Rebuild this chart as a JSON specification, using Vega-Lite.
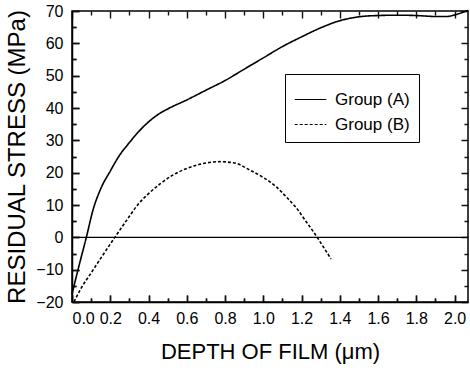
{
  "$schema": "https://vega.github.io/schema/vega-lite/v6.json",
  "width": 396,
  "height": 291,
  "autosize": {"type": "none"},
  "padding": {"left": 72, "top": 11, "right": 2, "bottom": 68},
  "background": "white",
  "config": {
    "view": {"stroke": "#000", "strokeWidth": 1.5},
    "font": "Liberation Sans"
  },
  "datasets": {
    "curves": [
      {"group": "Group (A)", "x": 0.0, "y": -17.5},
      {"group": "Group (A)", "x": 0.04, "y": -8},
      {"group": "Group (A)", "x": 0.075, "y": 0},
      {"group": "Group (A)", "x": 0.11, "y": 8.5},
      {"group": "Group (A)", "x": 0.15, "y": 15},
      {"group": "Group (A)", "x": 0.2, "y": 20.5},
      {"group": "Group (A)", "x": 0.25, "y": 25.5},
      {"group": "Group (A)", "x": 0.3, "y": 29.3},
      {"group": "Group (A)", "x": 0.35, "y": 32.8},
      {"group": "Group (A)", "x": 0.4, "y": 35.7},
      {"group": "Group (A)", "x": 0.45, "y": 38},
      {"group": "Group (A)", "x": 0.5, "y": 39.7},
      {"group": "Group (A)", "x": 0.6, "y": 42.5},
      {"group": "Group (A)", "x": 0.7, "y": 45.5},
      {"group": "Group (A)", "x": 0.8, "y": 48.5},
      {"group": "Group (A)", "x": 0.9, "y": 52},
      {"group": "Group (A)", "x": 1.0, "y": 55.5},
      {"group": "Group (A)", "x": 1.1, "y": 59},
      {"group": "Group (A)", "x": 1.2, "y": 62},
      {"group": "Group (A)", "x": 1.3, "y": 64.8},
      {"group": "Group (A)", "x": 1.4, "y": 67},
      {"group": "Group (A)", "x": 1.5, "y": 68.2},
      {"group": "Group (A)", "x": 1.6, "y": 68.6},
      {"group": "Group (A)", "x": 1.7, "y": 68.7},
      {"group": "Group (A)", "x": 1.8, "y": 68.6},
      {"group": "Group (A)", "x": 1.9, "y": 68.3},
      {"group": "Group (A)", "x": 1.96, "y": 68.3},
      {"group": "Group (A)", "x": 2.0, "y": 68.8},
      {"group": "Group (A)", "x": 2.07, "y": 70.2},
      {"group": "Group (B)", "x": 0.01, "y": -20},
      {"group": "Group (B)", "x": 0.05, "y": -15.5},
      {"group": "Group (B)", "x": 0.1, "y": -11},
      {"group": "Group (B)", "x": 0.15, "y": -6.5},
      {"group": "Group (B)", "x": 0.224, "y": 0},
      {"group": "Group (B)", "x": 0.3, "y": 6.5},
      {"group": "Group (B)", "x": 0.34, "y": 9.8},
      {"group": "Group (B)", "x": 0.4, "y": 13.5},
      {"group": "Group (B)", "x": 0.46, "y": 16.5},
      {"group": "Group (B)", "x": 0.52, "y": 19},
      {"group": "Group (B)", "x": 0.6, "y": 21.3},
      {"group": "Group (B)", "x": 0.7, "y": 23},
      {"group": "Group (B)", "x": 0.77, "y": 23.4},
      {"group": "Group (B)", "x": 0.85, "y": 23},
      {"group": "Group (B)", "x": 0.93, "y": 20.8},
      {"group": "Group (B)", "x": 1.0, "y": 18.5},
      {"group": "Group (B)", "x": 1.07, "y": 15.5},
      {"group": "Group (B)", "x": 1.12, "y": 12.5},
      {"group": "Group (B)", "x": 1.17, "y": 9.3},
      {"group": "Group (B)", "x": 1.22, "y": 5.2},
      {"group": "Group (B)", "x": 1.276, "y": 0.5},
      {"group": "Group (B)", "x": 1.32, "y": -3.5},
      {"group": "Group (B)", "x": 1.354, "y": -6.7}
    ],
    "zero": [
      {"x": 0.0, "y": 0},
      {"x": 2.07, "y": 0}
    ]
  },
  "resolve": {"axis": {"x": "independent", "y": "independent"}},
  "layer": [
    {
      "data": {"name": "curves"},
      "mark": {"type": "line", "strokeWidth": 1.6, "color": "black", "interpolate": "monotone"},
      "encoding": {
        "x": {"field": "x", "type": "quantitative", "scale": {"domain": [0, 2.07], "nice": false, "zero": false},
          "axis": {"orient": "bottom", "values": [0, 0.2, 0.4, 0.6, 0.8, 1.0, 1.2, 1.4, 1.6, 1.8, 2.0], "format": ".1f", "domainColor": "#000", "domainWidth": 1.5, "ticks": true, "tickColor": "#111", "tickOpacity": 1, "tickWidth": 1.5, "tickSize": -7, "grid": true, "gridColor": "#111", "gridOpacity": 1, "gridWidth": 1.4, "gridDash": [7, 277, 7, 20], "labelColor": "#000", "labelFont": "Liberation Sans", "labelPadding": 15, "labelFontSize": 16, "title": "DEPTH OF FILM (μm)", "titleColor": "#000", "titleFont": "Liberation Sans", "titleFontWeight": "normal", "titleFontSize": 22, "titlePadding": 15}},
        "y": {"field": "y", "type": "quantitative", "scale": {"domain": [-20, 70], "nice": false, "zero": false},
          "axis": {"orient": "left", "values": [-20, -10, 0, 10, 20, 30, 40, 50, 60, 70], "domainColor": "#000", "domainWidth": 1.5, "ticks": true, "tickColor": "#111", "tickOpacity": 1, "tickWidth": 1.5, "tickSize": -7, "grid": true, "gridColor": "#111", "gridOpacity": 1, "gridWidth": 1.4, "gridDash": [7, 382, 7, 20], "labelColor": "#000", "labelFont": "Liberation Sans", "labelPadding": 16, "labelFontSize": 16, "title": "RESIDUAL STRESS (MPa)", "titleColor": "#000", "titleFont": "Liberation Sans", "titleFontWeight": "normal", "titleFontSize": 24, "titlePadding": 6}},
        "strokeDash": {"field": "group", "type": "nominal",
          "scale": {"domain": ["Group (A)", "Group (B)"], "range": [[1, 0], [3, 2]]},
          "legend": {"orient": "none", "legendX": 213, "legendY": 63, "title": null, "strokeColor": "black", "fillColor": "white", "padding": 9, "symbolType": "stroke", "symbolSize": 1000, "symbolStrokeWidth": 1.2, "symbolStrokeColor": "black", "labelFontSize": 17, "labelFont": "Liberation Sans", "labelOffset": 8, "rowPadding": 0, "labelColor": "black"}}
      }
    },
    {
      "data": {"name": "zero"},
      "mark": {"type": "line", "strokeWidth": 1.4, "color": "black"},
      "encoding": {
        "x": {"field": "x", "type": "quantitative",
          "axis": {"orient": "bottom", "values": [0.1, 0.3, 0.5, 0.7, 0.9, 1.1, 1.3, 1.5, 1.7, 1.9], "ticks": true, "tickColor": "#111", "tickOpacity": 1, "tickWidth": 1.5, "tickSize": -4, "grid": true, "gridColor": "#111", "gridOpacity": 1, "gridWidth": 1.4, "gridDash": [4, 283, 4, 20], "labels": false, "domain": false, "title": null}},
        "y": {"field": "y", "type": "quantitative",
          "axis": {"orient": "left", "values": [-15, -5, 5, 15, 25, 35, 45, 55, 65], "ticks": true, "tickColor": "#111", "tickOpacity": 1, "tickWidth": 1.5, "tickSize": -4, "grid": true, "gridColor": "#111", "gridOpacity": 1, "gridWidth": 1.4, "gridDash": [4, 388, 4, 20], "labels": false, "domain": false, "title": null}}
      }
    }
  ]
}
